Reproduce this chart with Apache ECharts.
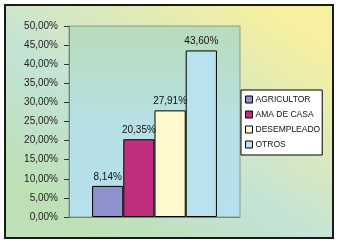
<!DOCTYPE html>
<html>
<head>
<meta charset="utf-8">
<script src="https://cdn.jsdelivr.net/npm/echarts@6/dist/echarts.min.js"></script>
<style>
  html, body { margin: 0; padding: 0; background: #fff; }
  #main { width: 340px; height: 248px; }
</style>
</head>
<body>
<div id="main"></div>
<script>
// chart data
const seriesNames = ["AGRICULTOR", "AMA DE CASA", "DESEMPLEADO", "OTROS"];
const seriesValues = [8.14, 20.35, 27.91, 43.60];
const barColors = ["#8e92cc", "#c02f7c", "#fdf9cc", "#b7e2ee"];

const fmt = (v) => v.toFixed(2).replace(".", ",") + "%";

const chart = echarts.init(document.getElementById("main"));

chart.setOption({
  animation: false,
  textStyle: { fontFamily: "Arial, 'Liberation Sans', sans-serif" },
  graphic: [
    {
      type: "rect",
      z: -10,
      shape: { x: 5, y: 5, width: 328, height: 233 },
      style: {
        fill: new echarts.graphic.LinearGradient(0.75, 0, 0.3, 1, [
          { offset: 0, color: "#f6f0a0" },
          { offset: 0.6, color: "#c3e3d6" },
          { offset: 1, color: "#bde0b6" },
        ]),
        stroke: "#1a1a1a",
        lineWidth: 2,
      },
    },
  ],
  grid: {
    left: 69,
    top: 26,
    right: 100,
    bottom: 31,
    show: true,
    backgroundColor: new echarts.graphic.LinearGradient(0, 0, 0, 1, [
      { offset: 0, color: "#b9dcba" },
      { offset: 0.5, color: "#b6e0e4" },
      { offset: 1, color: "#b5e0ee" },
    ]),
    borderColor: "#8a9a8a",
    borderWidth: 1,
  },
  legend: {
    orient: "vertical",
    left: 241,
    top: 90,
    data: seriesNames,
    backgroundColor: "#ffffff",
    borderColor: "#000",
    borderWidth: 1,
    padding: [5, 2, 6, 4],
    itemWidth: 7,
    itemHeight: 7,
    itemGap: 6,
    icon: "rect",
    itemStyle: { borderColor: "#000", borderWidth: 1 },
    textStyle: { fontSize: 8.5, color: "#111", padding: [0, 0, 0, -2] },
  },
  xAxis: {
    type: "category",
    data: [""],
    axisLine: { lineStyle: { color: "#808080" } },
    axisTick: { show: false },
    axisLabel: { show: false },
  },
  yAxis: {
    type: "value",
    min: 0,
    max: 50,
    interval: 5,
    axisLine: { show: true, lineStyle: { color: "#808080" } },
    axisTick: { show: true, inside: false, length: 5, lineStyle: { color: "#333" } },
    splitLine: { show: false },
    axisLabel: { formatter: fmt, fontSize: 10, color: "#222", margin: 11 },
  },
  series: seriesNames.map((name, i) => ({
    name: name,
    type: "bar",
    data: [seriesValues[i]],
    barGap: "0%",
    barCategoryGap: "27%",
    itemStyle: { color: barColors[i], borderColor: "#000", borderWidth: 1 },
    label: {
      show: true,
      position: "top",
      formatter: (p) => fmt(p.value),
      fontSize: 10,
      color: "#111",
      distance: 4,
    },
  })),
});
</script>
</body>
</html>
